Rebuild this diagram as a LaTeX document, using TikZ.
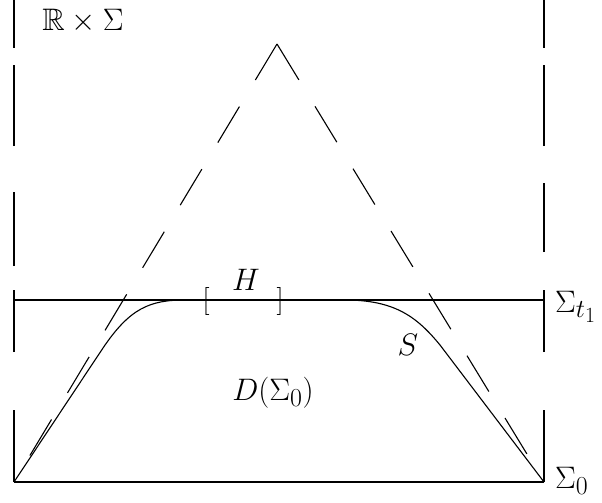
\documentclass[tikz,border=0pt]{standalone}
\usepackage{amsmath, amssymb}
\usepackage{graphicx}
\usepackage{tikz}

\newcommand{\biglbl}[1]{\scalebox{1.25}{#1}}

\begin{document}
\begin{tikzpicture}[
  x=1pt, y=-1pt,
  every node/.style={font=\Huge, inner sep=0pt},
  slice/.style ={line width=1.4pt},
  lwall/.style ={line width=1.4pt, dash pattern=on 72pt off 58pt on 62pt off 24pt on 74pt off 46pt on 81pt off 17pt on 70pt off 1pt},
  rwall/.style ={line width=1.4pt, dash pattern=on 72pt off 58pt on 62pt off 38pt on 69pt off 37pt on 81pt off 17pt on 70pt off 1pt},
  cone/.style  ={line width=1.1pt, dash pattern=on 42pt off 31pt},
  surf/.style  ={line width=1.1pt},
  brack/.style ={font=\fontsize{28}{32}\selectfont}
]
\useasboundingbox (0,0) rectangle (602,503);

%% Corners of the strip and apex of the cone
\coordinate (BL)   at (14,482);
\coordinate (BR)   at (544,482);
\coordinate (TL)   at (14,300);
\coordinate (TR)   at (544,300);
\coordinate (UL)   at (14,0);
\coordinate (UR)   at (544,0);
\coordinate (apex) at (277,44);

%% Points where S leaves the slice Sigma_t1
\coordinate (sl) at (185,300);
\coordinate (sr) at (345,300);

%% Dashed walls of R x Sigma (drawn from the bottom up)
\draw[lwall] (BL) -- (UL);
\draw[rwall] (BR) -- (UR);

%% Slices Sigma_0 and Sigma_t1
\draw[slice] (BL) -- (BR);
\draw[slice] (TL) -- (TR);

%% Light cone
\draw[cone] (apex) -- (BL);
\draw[cone] (apex) -- (BR);

%% Surface S
\draw[surf] (BL) -- (103,348) .. controls (130,308) and (150,300) .. (sl);
\draw[surf] (sr) .. controls (395,300) and (417,317) .. (440,345) -- (BR);

%% Labels
\node (RS) at (83,21) {\biglbl{$\mathbb{R}\times\Sigma$}};
\node (H)  at (246,280) {\biglbl{$H$}};
\node[brack] (hl) at (206,301) {[};
\node[brack] (hr) at (280,301) {]};
\node (S)  at (408,345) {\biglbl{$S$}};
\node (D)  at (273,393) {\biglbl{$D(\Sigma_0)$}};
\node[anchor=base west] (St) at (555,312) {\biglbl{$\Sigma_{t_1}$}};
\node[anchor=base west] (S0) at (555,488) {\biglbl{$\Sigma_0$}};

\end{tikzpicture}
\end{document}
